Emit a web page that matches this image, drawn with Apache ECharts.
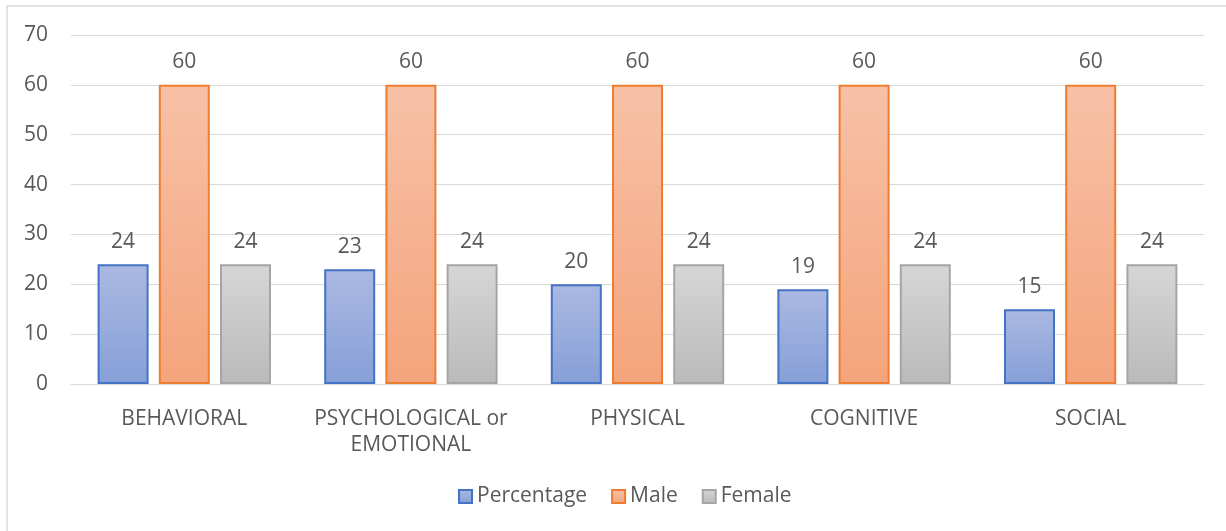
<!DOCTYPE html>
<html>
<head>
<meta charset="utf-8">
<script src="https://cdn.jsdelivr.net/npm/echarts@6/dist/echarts.min.js"></script>
<style>
  html, body { margin: 0; padding: 0; background: #fff; }
  #chart { width: 1226px; height: 531px; }
</style>
</head>
<body>
<div id="chart"></div>
<script>
// Domains of the assessment and their counts per group
const categories = ['BEHAVIORAL', 'PSYCHOLOGICAL or\nEMOTIONAL', 'PHYSICAL', 'COGNITIVE', 'SOCIAL'];
const percentageValues = [24, 23, 20, 19, 15];
const maleValues = [60, 60, 60, 60, 60];
const femaleValues = [24, 24, 24, 24, 24];
const seriesNames = ['Percentage', 'Male', 'Female'];

const FONT = '"Open Sans", "Noto Sans", sans-serif';
const TEXT = '#595959';

function grad(top, bottom) {
  return new echarts.graphic.LinearGradient(0, 0, 0, 1, [
    { offset: 0, color: top },
    { offset: 1, color: bottom }
  ]);
}

const styles = [
  { fill: grad('#abb9e2', '#869fd8'), border: '#4472c4' },
  { fill: grad('#f7c1a6', '#f4a47c'), border: '#ed7d31' },
  { fill: grad('#d6d6d6', '#bababa'), border: '#a5a5a5' }
];

const values = [percentageValues, maleValues, femaleValues];

const chart = echarts.init(document.getElementById('chart'), null, { renderer: 'canvas' });

chart.setOption({
  animation: false,
  backgroundColor: '#fff',
  graphic: [{
    type: 'rect',
    shape: { x: 7, y: 6, width: 1400, height: 700 },
    style: { fill: 'none', stroke: '#d9d9d9', lineWidth: 1.5 },
    silent: true
  }],
  grid: { left: 71, right: 22, top: 35, bottom: 147 },
  legend: {
    top: 481,
    left: 453,
    itemWidth: 13,
    itemHeight: 13,
    itemGap: 24,
    icon: 'rect',
    textStyle: { color: TEXT, fontSize: 21, fontFamily: FONT },
    data: seriesNames
  },
  xAxis: {
    type: 'category',
    data: categories,
    axisLine: { lineStyle: { color: '#d9d9d9', width: 1 } },
    axisTick: { show: false },
    axisLabel: {
      color: TEXT, fontSize: 21, fontFamily: FONT, margin: 22, lineHeight: 26, interval: 0
    }
  },
  yAxis: {
    type: 'value',
    min: 0, max: 70, interval: 10,
    axisLine: { show: false },
    axisTick: { show: false },
    splitLine: { lineStyle: { color: '#d9d9d9', width: 1 } },
    axisLabel: { color: TEXT, fontSize: 21, fontFamily: FONT, margin: 23 }
  },
  series: seriesNames.map((name, i) => ({
    name: name,
    type: 'bar',
    data: values[i],
    barWidth: 51,
    barGap: '20%',
    itemStyle: {
      color: styles[i].fill,
      borderColor: styles[i].border,
      borderWidth: 2
    },
    label: {
      show: true,
      position: 'top',
      distance: 12,
      color: TEXT,
      fontSize: 21,
      fontFamily: FONT
    }
  }))
});
</script>
</body>
</html>
